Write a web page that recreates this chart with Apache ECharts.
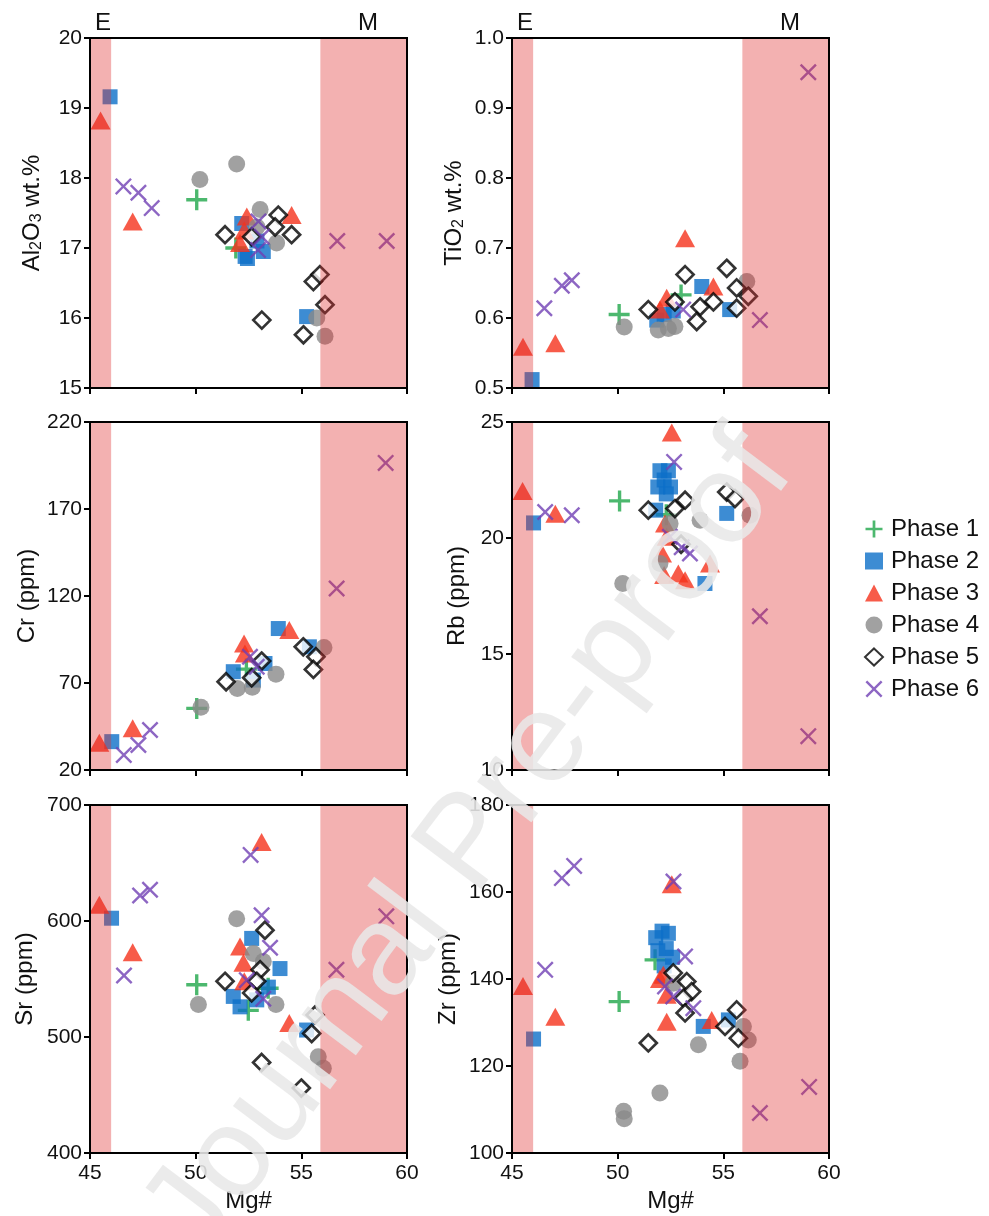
<!DOCTYPE html>
<html><head><meta charset="utf-8">
<script src="https://cdn.jsdelivr.net/npm/echarts@6/dist/echarts.min.js"></script>
<style>html,body{margin:0;padding:0;background:#fff}#c{width:989px;height:1216px}</style>
</head><body><div id="c"></div>
<script>
// ---------- data (Mg#, value) ----------
const phaseNames = ['Phase 1','Phase 2','Phase 3','Phase 4','Phase 5','Phase 6'];
const mgTicks = [45, 50, 55, 60];
const bandE = [45, 46];
const bandM = [55.9, 60];

// Al2O3 wt.%
const al2o3_p1 = [[50.05,17.69],[51.9,17.0]];
const al2o3_p2 = [[45.95,19.16],[52.18,17.35],[52.34,16.88],[53.2,16.95],[52.9,17.1],[52.45,16.85],[55.25,16.02]];
const al2o3_p3 = [[45.5,18.82],[47.02,17.38],[52.42,17.45],[52.1,17.07],[52.3,17.25],[54.54,17.47]];
const al2o3_p4 = [[50.2,17.98],[51.94,18.2],[53.05,17.55],[52.9,17.3],[53.83,17.07],[55.73,16.0],[56.12,15.74]];
const al2o3_p5 = [[51.39,17.19],[52.65,17.16],[53.91,17.47],[53.76,17.3],[54.54,17.19],[55.57,16.52],[55.88,16.62],[56.12,16.19],[53.13,15.97],[55.1,15.76]];
const al2o3_p6 = [[46.58,17.88],[47.29,17.79],[47.92,17.57],[52.97,17.38],[53.13,17.16],[52.95,16.97],[56.7,17.1],[59.04,17.1]];

// TiO2 wt.%
const tio2_p1 = [[50.07,0.605],[53.0,0.633]];
const tio2_p2 = [[45.95,0.512],[51.85,0.597],[52.63,0.61],[52.2,0.605],[53.98,0.645],[55.3,0.612]];
const tio2_p3 = [[45.52,0.559],[47.05,0.564],[53.19,0.714],[54.53,0.645],[52.32,0.629],[52.0,0.612]];
const tio2_p4 = [[50.31,0.587],[51.92,0.583],[52.4,0.585],[52.71,0.588],[56.11,0.652]];
const tio2_p5 = [[53.19,0.662],[55.16,0.671],[55.63,0.643],[56.18,0.631],[55.63,0.614],[54.53,0.623],[53.9,0.616],[53.74,0.595],[52.71,0.623],[51.45,0.612]];
const tio2_p6 = [[46.53,0.614],[47.36,0.646],[47.83,0.654],[53.1,0.612],[59.02,0.951],[56.73,0.597]];

// Cr (ppm)
const cr_p1 = [[50.05,55.4],[52.4,78]];
const cr_p2 = [[46.03,36.3],[51.78,76.5],[52.73,71.7],[53.28,81.2],[53.91,101.3],[55.38,90.8]];
const cr_p3 = [[45.44,35.7],[47.02,44.0],[52.29,92.7],[52.33,87],[54.43,100.4]];
const cr_p4 = [[50.25,56.0],[51.97,66.9],[52.68,67.5],[53.8,75.1],[56.07,90.4]];
const cr_p5 = [[51.44,70.7],[52.65,73.0],[53.12,82.6],[55.09,90.8],[55.69,85.1],[55.57,77.8]];
const cr_p6 = [[46.6,28.6],[47.29,34.4],[47.84,43.0],[52.57,85.1],[52.89,79.3],[56.67,124.3],[58.99,196.5]];

// Rb (ppm)
const rb_p1 = [[50.09,21.6],[52.3,21.0]];
const rb_p2 = [[46.02,20.65],[52.0,22.9],[52.4,22.9],[52.2,22.5],[51.9,22.2],[52.5,22.2],[52.3,21.9],[51.8,21.2],[54.13,18.04],[55.16,21.06]];
const rb_p3 = [[45.5,22.03],[47.05,21.05],[52.56,24.55],[52.24,20.62],[52.32,20.05],[52.1,19.33],[52.87,18.47],[53.19,18.18],[54.37,18.9],[52.2,18.4]];
const rb_p4 = [[50.24,18.04],[53.9,20.77],[52.48,20.62],[52.0,18.9],[56.26,20.98]];
const rb_p5 = [[51.45,21.2],[52.71,21.27],[53.19,21.63],[55.16,21.98],[55.55,21.7],[53.0,19.73]];
const rb_p6 = [[46.57,21.12],[47.83,20.98],[52.67,23.28],[52.47,20.05],[53.03,19.6],[53.42,19.33],[56.73,16.63],[59.02,11.46]];

// Sr (ppm)
const sr_p1 = [[50.05,545],[52.49,523],[53.43,542]];
const sr_p2 = [[46.02,602.4],[52.65,585],[53.99,559],[51.78,535],[52.1,526],[52.89,532],[53.44,543],[55.25,506]];
const sr_p3 = [[45.44,614],[47.02,573],[53.12,668],[52.1,578],[52.26,564],[52.3,548],[54.43,512]];
const sr_p4 = [[50.13,528],[51.94,602],[52.73,572],[53.2,565],[53.8,528],[55.8,483],[56.04,473]];
const sr_p5 = [[53.28,592],[53.05,558],[51.39,548],[52.89,548],[52.65,538],[55.65,519],[55.49,503],[53.12,478],[55.0,456]];
const sr_p6 = [[46.61,553],[47.37,622],[47.84,627],[52.6,657],[53.12,605],[53.52,577],[52.42,549],[53.2,533],[56.66,558],[59.02,604]];

// Zr (ppm)
const zr_p1 = [[50.07,134.8],[51.77,144.4]];
const zr_p2 = [[46.02,126.2],[51.8,149.5],[52.1,151],[52.4,150.5],[51.9,146.5],[52.3,147],[52.6,145],[52.2,143],[54.05,129.1],[55.24,130.6]];
const zr_p3 = [[45.52,138.4],[47.05,131.3],[52.56,161.8],[52.16,141],[52.0,140],[52.32,136.4],[52.32,130.2],[54.45,130.6]];
const zr_p4 = [[50.28,109.6],[50.31,107.9],[52.0,113.8],[53.82,124.9],[55.79,121.1],[55.95,129.1],[56.18,126],[52.63,139]];
const zr_p5 = [[52.63,141.4],[53.27,139.4],[53.5,137.1],[53.11,135.6],[53.19,132.2],[55.63,132.9],[55.08,129.1],[55.71,126.4],[51.45,125.3]];
const zr_p6 = [[46.57,142.1],[47.36,163.2],[47.94,166.0],[52.64,162.4],[53.19,145.2],[52.24,138.3],[52.63,136],[53.58,133.3],[56.73,109.2],[59.06,115.2]];

// axis ranges / ticks
const al2o3Axis = {min:15, max:20, interval:1};
const tio2Axis  = {min:0.5, max:1.0, interval:0.1};
const crAxis    = {min:20, max:220, interval:50};
const rbAxis    = {min:10, max:25, interval:5};
const srAxis    = {min:400, max:700, interval:100};
const zrAxis    = {min:100, max:180, interval:20};

// ---------- chart ----------
const FONT = '"Liberation Sans", Arial, Helvetica, sans-serif';
const plusPath = 'path://M4.2,0H5.8V4.2H10V5.8H5.8V10H4.2V5.8H0V4.2H4.2Z';
const crossPath = 'path://M0,1L1,0L5,4L9,0L10,1L6,5L10,9L9,10L5,6L1,10L0,9L4,5Z';
const styles = [
  {symbol: plusPath, symbolSize: 21, itemStyle:{color:'#1fa64a'}},
  {symbol: 'rect', symbolSize: 15, itemStyle:{color:'#0c6fc8'}},
  {symbol: 'triangle', symbolSize: [20,18], itemStyle:{color:'#f5321c'}},
  {symbol: 'circle', symbolSize: 17, itemStyle:{color:'#8a8a8a'}},
  {symbol: 'diamond', symbolSize: 17, itemStyle:{color:'#ffffff', borderColor:'#000', borderWidth:2.7}},
  {symbol: crossPath, symbolSize: 17, itemStyle:{color:'#7040b4'}}
];

const panels = [
  {data:[al2o3_p1,al2o3_p2,al2o3_p3,al2o3_p4,al2o3_p5,al2o3_p6], axis:al2o3Axis, name:'{a|Al}{s|2}{a|O}{s|3}{a| wt.%}', gap:44, dec:0},
  {data:[tio2_p1,tio2_p2,tio2_p3,tio2_p4,tio2_p5,tio2_p6], axis:tio2Axis, name:'{a|TiO}{s|2}{a| wt.%}', gap:44, dec:1},
  {data:[cr_p1,cr_p2,cr_p3,cr_p4,cr_p5,cr_p6], axis:crAxis, name:'{a|Cr (ppm)}', gap:49, dec:0},
  {data:[rb_p1,rb_p2,rb_p3,rb_p4,rb_p5,rb_p6], axis:rbAxis, name:'{a|Rb (ppm)}', gap:41, dec:0},
  {data:[sr_p1,sr_p2,sr_p3,sr_p4,sr_p5,sr_p6], axis:srAxis, name:'{a|Sr (ppm)}', gap:51, dec:0},
  {data:[zr_p1,zr_p2,zr_p3,zr_p4,zr_p5,zr_p6], axis:zrAxis, name:'{a|Zr (ppm)}', gap:50, dec:0}
];

const gridPos = [
  {left:90, top:38, width:317, height:350},
  {left:512, top:38, width:317, height:350},
  {left:90, top:422, width:317, height:348},
  {left:512, top:422, width:317, height:348},
  {left:90, top:805, width:317, height:348},
  {left:512, top:805, width:317, height:348}
];

const grid = [], xAxis = [], yAxis = [], series = [];
panels.forEach((p, g) => {
  grid.push(Object.assign({show:true, borderColor:'#000', borderWidth:2, backgroundColor:'transparent', z:10}, gridPos[g]));
  const bottomRow = g >= 4;
  xAxis.push({
    type:'value', gridIndex:g, min:mgTicks[0], max:mgTicks[mgTicks.length-1], interval:5, z:10,
    name: bottomRow ? 'Mg#' : '', nameLocation:'middle', nameGap:36,
    nameTextStyle:{fontSize:24, color:'#111', fontFamily:FONT},
    axisLine:{onZero:false, lineStyle:{color:'#000', width:2}},
    axisTick:{show:true, inside:false, length:6, lineStyle:{color:'#000', width:2}},
    axisLabel:{show:bottomRow, fontSize:21, color:'#111', margin:10, fontFamily:FONT},
    splitLine:{show:false}
  });
  yAxis.push({
    type:'value', gridIndex:g, min:p.axis.min, max:p.axis.max, interval:p.axis.interval, z:10,
    name:p.name, nameLocation:'middle', nameGap:p.gap,
    nameTextStyle:{fontFamily:FONT, color:'#111',
      rich:{a:{fontSize:24, color:'#111', fontFamily:FONT, lineHeight:28},
            s:{fontSize:16, color:'#111', fontFamily:FONT, lineHeight:28, padding:[10,0,0,0]}}},
    axisLine:{onZero:false, lineStyle:{color:'#000', width:2}},
    axisTick:{show:true, inside:false, length:6, lineStyle:{color:'#000', width:2}},
    axisLabel:{fontSize:21, color:'#111', margin:8, fontFamily:FONT,
      formatter: v => p.dec ? v.toFixed(p.dec) : String(Math.round(v))},
    splitLine:{show:false}
  });
  p.data.forEach((d, k) => {
    series.push(Object.assign({
      type:'scatter', name:phaseNames[k], xAxisIndex:g, yAxisIndex:g, data:d, z:2,
      emphasis:{disabled:true}
    }, JSON.parse(JSON.stringify(styles[k]))));
  });
  // translucent E / M bands drawn over the markers
  series.push({
    type:'custom', xAxisIndex:g, yAxisIndex:g, z:5, silent:true,
    data:[bandE, bandM],
    renderItem:(params, api) => {
      const a = api.coord([api.value(0), p.axis.max]);
      const b = api.coord([api.value(1), p.axis.min]);
      return {type:'rect', shape:{x:a[0], y:a[1], width:b[0]-a[0], height:b[1]-a[1]},
              style:{fill:'rgba(222,40,40,0.36)'}};
    }
  });
});

const chart = echarts.init(document.getElementById('c'), null, {renderer:'canvas'});
chart.setOption({
  animation:false,
  textStyle:{fontFamily:FONT},
  grid, xAxis, yAxis, series,
  legend:{
    data:phaseNames, orient:'vertical', left:859, top:512,
    itemWidth:18, itemHeight:17, itemGap:8,
    textStyle:{fontSize:24, color:'#111', fontFamily:FONT, lineHeight:24, padding:[0,0,0,3]},
    selectedMode:false
  },
  graphic:[
    {type:'text', x:103, y:23, z:50, style:{text:'E', font:'24px '+FONT, fill:'#111', align:'center', verticalAlign:'middle'}},
    {type:'text', x:368, y:23, z:50, style:{text:'M', font:'24px '+FONT, fill:'#111', align:'center', verticalAlign:'middle'}},
    {type:'text', x:525, y:23, z:50, style:{text:'E', font:'24px '+FONT, fill:'#111', align:'center', verticalAlign:'middle'}},
    {type:'text', x:790, y:23, z:50, style:{text:'M', font:'24px '+FONT, fill:'#111', align:'center', verticalAlign:'middle'}},
    {type:'text', x:470, y:845, z:100, rotation:53*Math.PI/180, silent:true,
     style:{text:'Journal Pre-proof', font:'128px '+FONT, fill:'rgba(232,232,232,0.88)', align:'center', verticalAlign:'middle'}}
  ]
});
</script>
</body></html>
